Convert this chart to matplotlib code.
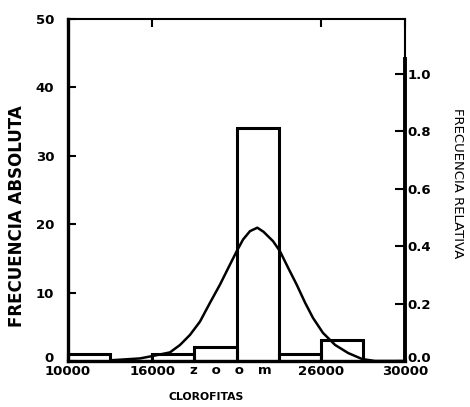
import numpy as np
import matplotlib.pyplot as plt
from matplotlib import transforms

# histograma de clorofitas
bin_left = [10000, 12500, 15000, 17500, 20000, 22500, 25000, 27500]
bin_width = 2500
counts = [1, 0, 1, 2, 34, 1, 3, 0]

# curva normal (frecuencia relativa)
curve_x = [12670, 14270, 14985, 16050, 16650, 17240, 17830, 18430, 19020, 19615,
           20010, 20390, 20800, 21235, 21600, 22170, 22580, 23060, 23570, 24070,
           24540, 25130, 25850, 26620, 27450, 28220, 30000]
curve_rel = [0.003, 0.009, 0.017, 0.030, 0.056, 0.091, 0.137, 0.203, 0.266, 0.336,
             0.382, 0.423, 0.452, 0.464, 0.450, 0.417, 0.382, 0.325, 0.266, 0.203,
             0.150, 0.098, 0.056, 0.028, 0.007, 0.0, 0.0]

xticks = [10000, 15000, 25000, 30000]
xtick_labels = ['10000', '16000', '26000', '30000']
yticks_abs = [0, 10, 20, 30, 40, 50]
yticks_rel = [0.0, 0.2, 0.4, 0.6, 0.8, 1.0]

plt.rcParams['font.family'] = ['DejaVu Sans']

fig = plt.figure(figsize=(4.7, 4.07), dpi=100)
ax = fig.add_axes([0.1447, 0.113, 0.717, 0.8403])

ax.bar(bin_left, counts, width=bin_width, align='edge', fill=False,
       edgecolor='black', linewidth=2.2, zorder=3)
ax.set_xlim(10000, 30000)
ax.set_ylim(0, 50)
ax.set_xticks(xticks)
ax.set_xticklabels(xtick_labels, fontsize=9.5, fontweight='bold')
ax.set_yticks(yticks_abs)
ax.set_yticklabels([str(v) for v in yticks_abs], fontsize=9.5, fontweight='bold')
ax.tick_params(axis='y', direction='in', length=6, width=1.5, pad=10)
ax.tick_params(axis='x', direction='in', length=6, width=1.5, pad=3, top=True)
ax.spines['left'].set_linewidth(2.4)
ax.spines['bottom'].set_linewidth(2.4)
ax.spines['top'].set_linewidth(1.5)
ax.spines['right'].set_linewidth(1.5)

ax.set_ylabel('FRECUENCIA ABSOLUTA', fontsize=12, fontweight='bold')
ax.yaxis.set_label_coords(-0.125, 0.425)
ax.set_xlabel('CLOROFITAS', fontsize=7.8, fontweight='bold')
ax.xaxis.set_label_coords(0.41, -0.09)

trans = transforms.blended_transform_factory(ax.transData, ax.transAxes)
ax.text(19675, -0.010, 'z   o   o   m', transform=trans, ha='center', va='top',
        fontsize=9.5, fontweight='bold')

ax2 = ax.twinx()
ax2.plot(curve_x, curve_rel, color='black', linewidth=1.8, zorder=4)
ax2.set_ylim(0, 50 / 42)
ax2.set_yticks(yticks_rel)
ax2.set_yticklabels([f'{v:.1f}' for v in yticks_rel], fontsize=9.5, fontweight='bold')
ax2.tick_params(axis='y', direction='in', length=7, width=1.5, pad=2)
for s in ['left', 'top', 'bottom']:
    ax2.spines[s].set_visible(False)
ax2.spines['right'].set_linewidth(2.8)
ax2.spines['right'].set_bounds(0, 1.05)
ax2.set_ylabel('FRECUENCIA RELATIVA', fontsize=9.5, rotation=-90)
ax2.yaxis.set_label_coords(1.175, 0.52)

# los ceros de ambos ejes un poco por encima de la linea base
up = transforms.ScaledTranslation(0, 3 / 72, fig.dpi_scale_trans)
for lab in (ax.get_yticklabels()[0], ax2.get_yticklabels()[0]):
    lab.set_transform(lab.get_transform() + up)

plt.savefig('out.png', dpi=100)
